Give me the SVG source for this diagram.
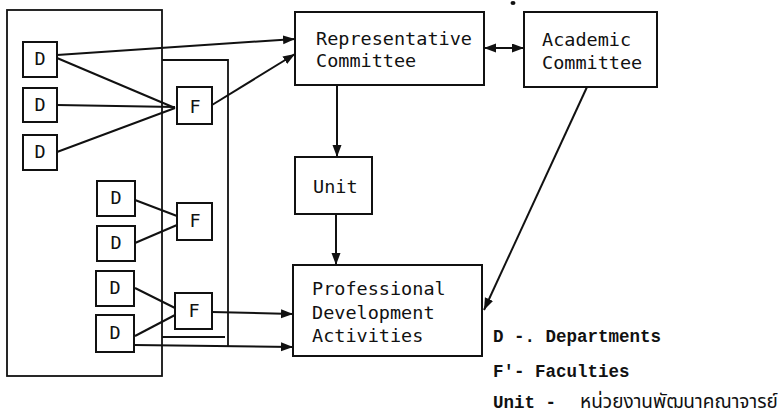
<svg xmlns="http://www.w3.org/2000/svg" width="778" height="419" viewBox="0 0 778 419">
<style>
.box{fill:none;stroke:#111;stroke-width:2}
.frame{fill:none;stroke:#111;stroke-width:1.8}
.lbl{font-family:"DejaVu Sans Mono","Liberation Mono",monospace;font-size:18.5px;fill:#111}
.mid{text-anchor:middle}
.leg{font-family:"Liberation Mono","DejaVu Sans Mono","Noto Sans",sans-serif;font-size:17.5px;font-weight:bold;fill:#111}
.thai{font-family:"Noto Sans Thai","Noto Sans","DejaVu Sans",sans-serif;font-size:19px;font-weight:normal}
.con{fill:none;stroke:#111;stroke-width:2}
</style>
<defs>
<marker id="ah" markerUnits="userSpaceOnUse" markerWidth="13" markerHeight="10" refX="12" refY="4.5" orient="auto-start-reverse">
<path d="M0,0 L12,4.5 L0,9 z" fill="#111"/>
</marker>
</defs>
<rect width="778" height="419" fill="#fff"/>
<g id="frames">
<rect class="frame" x="7" y="10" width="155" height="366"/>
<path class="frame" d="M162,60 H228 V346 M162,337 H225"/>
</g>
<g id="D1"><rect class="box" x="23" y="42" width="34" height="35"/><text class="lbl mid" x="40" y="65">D</text></g>
<g id="D2"><rect class="box" x="23" y="88" width="34" height="34"/><text class="lbl mid" x="40" y="111">D</text></g>
<g id="D3"><rect class="box" x="23" y="135" width="34" height="35"/><text class="lbl mid" x="40" y="158">D</text></g>
<g id="D4"><rect class="box" x="97" y="181" width="38" height="35"/><text class="lbl mid" x="116" y="204">D</text></g>
<g id="D5"><rect class="box" x="97" y="226" width="38" height="35"/><text class="lbl mid" x="116" y="249">D</text></g>
<g id="D6"><rect class="box" x="96" y="271" width="38" height="35"/><text class="lbl mid" x="115" y="294">D</text></g>
<g id="D7"><rect class="box" x="96" y="315" width="38" height="37"/><text class="lbl mid" x="115" y="339">D</text></g>
<g id="F1"><rect class="box" x="177" y="87" width="35" height="37"/><text class="lbl mid" x="195" y="113">F</text></g>
<g id="F2"><rect class="box" x="177" y="203" width="35" height="37"/><text class="lbl mid" x="195" y="227">F</text></g>
<g id="F3"><rect class="box" x="175" y="293" width="37" height="36"/><text class="lbl mid" x="194" y="317">F</text></g>
<g id="rep"><rect class="box" x="295" y="12" width="189" height="73"/><text class="lbl" x="316" y="45">Representative</text><text class="lbl" x="316" y="67">Committee</text></g>
<g id="acad"><rect class="box" x="524" y="12" width="133" height="75"/><text class="lbl" x="542" y="46">Academic</text><text class="lbl" x="542" y="69">Committee</text></g>
<g id="unit"><rect class="box" x="295" y="157" width="77" height="57"/><text class="lbl" x="313" y="193">Unit</text></g>
<g id="pda"><rect class="box" x="293" y="265" width="189" height="91"/><text class="lbl" x="312" y="295">Professional</text><text class="lbl" x="312" y="319">Development</text><text class="lbl" x="312" y="342">Activities</text></g>
<g id="connectors">
<path class="con" d="M57,55 L295,39" marker-end="url(#ah)"/>
<path class="con" d="M57,58 L175,108"/>
<path class="con" d="M57,105 L175,107"/>
<path class="con" d="M57,152 L175,108"/>
<path class="con" d="M212,105 L295,54" marker-end="url(#ah)"/>
<path class="con" d="M135,200 L177,216"/>
<path class="con" d="M135,243 L177,225"/>
<path class="con" d="M135,288 L175,308"/>
<path class="con" d="M135,336 L175,315"/>
<path class="con" d="M212,312 L293,314" marker-end="url(#ah)"/>
<path class="con" d="M134,345 L293,347" marker-end="url(#ah)"/>
<path class="con" d="M337,85 L337,157" marker-end="url(#ah)"/>
<path class="con" d="M336,214 L336,265" marker-end="url(#ah)"/>
<path class="con" d="M484,48 L524,48" marker-start="url(#ah)" marker-end="url(#ah)"/>
<path class="con" d="M587,87 L484,310" marker-end="url(#ah)"/>
</g>
<g id="legend">
<text class="leg" x="493" y="342" xml:space="preserve">D -. Departments</text>
<text class="leg" x="493" y="377" xml:space="preserve">F'- Faculties</text>
<text class="leg" x="493" y="408" xml:space="preserve">Unit - <tspan class="thai" x="580">หน่วยงานพัฒนาคณาจารย์</tspan></text>
</g>
<ellipse cx="513" cy="3" rx="2.5" ry="2" fill="#111"/>
</svg>
